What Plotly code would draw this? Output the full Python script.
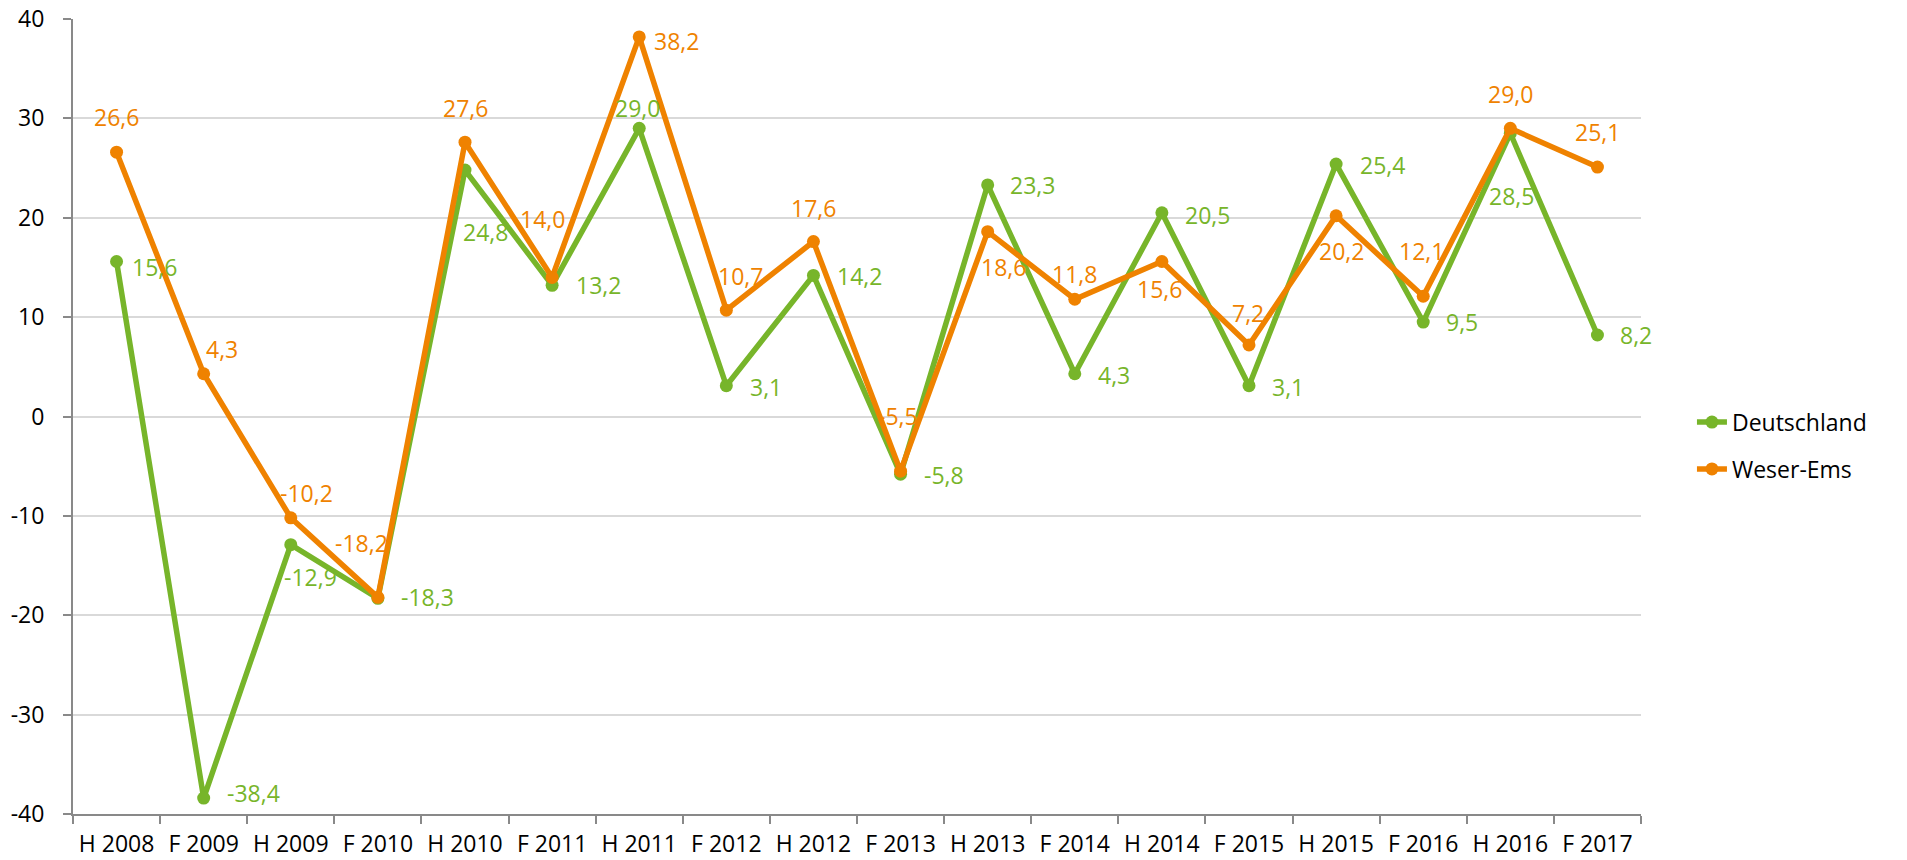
import plotly.graph_objects as go

categories = ["H 2008", "F 2009", "H 2009", "F 2010", "H 2010", "F 2011", "H 2011", "F 2012",
              "H 2012", "F 2013", "H 2013", "F 2014", "H 2014", "F 2015", "H 2015", "F 2016",
              "H 2016", "F 2017"]
deutschland = [15.6, -38.4, -12.9, -18.3, 24.8, 13.2, 29.0, 3.1, 14.2, -5.8, 23.3, 4.3, 20.5, 3.1,
               25.4, 9.5, 28.5, 8.2]
weser_ems = [26.6, 4.3, -10.2, -18.2, 27.6, 14.0, 38.2, 10.7, 17.6, -5.5, 18.6, 11.8, 15.6, 7.2,
             20.2, 12.1, 29.0, 25.1]
y_tickvals = [-40, -30, -20, -10, 0, 10, 20, 30, 40]
y_ticktext = ["-40", "-30", "-20", "-10", "0", "10", "20", "30", "40"]

# label offsets in pixels (dx right, dy down) -- styling only
de_off = [(38, 6), (50, -5), (20, 32), (50, -1), (20, 62), (46, 0), (-2, -20), (40, 1), (46, 1),
          (43, 1), (45, 0), (39, 1), (46, 2), (39, 1), (46, 1), (39, 0), (1, 63), (39, 0)]
we_off = [(0, -35), (18, -25), (16, -25), (-16, -54), (0, -34), (-10, -58), (37, 4), (14, -34),
          (0, -34), (-3, -55), (16, 35), (0, -25), (-2, 28), (-1, -32), (5, 35), (-2, -45),
          (0, -34), (0, -35)]

GREEN = "#77B52A"
ORANGE = "#EF8200"
FONT = "Open Sans"
FS = 23

fig = go.Figure()
fig.add_trace(go.Scatter(x=categories, y=deutschland, name="Deutschland", mode="lines+markers",
                         line=dict(color=GREEN, width=5.5), marker=dict(color=GREEN, size=13),
                         legendgroup="a"))
fig.add_trace(go.Scatter(x=categories, y=weser_ems, name="Weser-Ems", mode="lines+markers",
                         line=dict(color=ORANGE, width=5.5), marker=dict(color=ORANGE, size=13),
                         legendgroup="b"))

def fmt(v):
    return f"{v:.1f}".replace(".", ",")

annotations = []
for vals, offs, col in ((deutschland, de_off, GREEN), (weser_ems, we_off, ORANGE)):
    for c, v, (dx, dy) in zip(categories, vals, offs):
        annotations.append(dict(x=c, y=v, text=fmt(v), showarrow=False, xanchor="center",
                                yanchor="middle", xshift=dx, yshift=-dy,
                                font=dict(family=FONT, size=FS, color=col)))

fig.update_layout(
    width=1907, height=860,
    margin=dict(l=73, r=266, t=19, b=46, autoexpand=False),
    plot_bgcolor="white", paper_bgcolor="white",
    font=dict(family=FONT, size=FS, color="black"),
    showlegend=True,
    legend=dict(x=1.0325, y=0.52, xanchor="left", yanchor="top", font=dict(size=FS, color="black"),
                traceorder="grouped", tracegroupgap=14, bgcolor="rgba(0,0,0,0)"),
    annotations=annotations,
)
fig.update_xaxes(type="category", tickson="boundaries", ticks="outside", ticklen=8,
                 tickcolor="#898989", tickwidth=2, showline=True, linecolor="#898989",
                 linewidth=2, showgrid=False, ticklabelstandoff=8, automargin=False,
                 tickfont=dict(family=FONT, size=FS, color="black"), range=[-0.5, 17.5])
fig.update_yaxes(range=[-40, 40], tickmode="array", tickvals=y_tickvals, ticktext=y_ticktext,
                 ticks="outside", ticklen=8, automargin=False,
                 tickcolor="#898989", tickwidth=2, showline=True, linecolor="#898989",
                 linewidth=2, showgrid=True, gridcolor="#D9D9D9", gridwidth=1.5, zeroline=False,
                 ticklabelstandoff=14, tickfont=dict(family=FONT, size=FS, color="black"))

fig.write_html("out.html", config={"displayModeBar": False},
               post_script="document.body.style.margin='0';document.body.style.overflow='hidden';")
